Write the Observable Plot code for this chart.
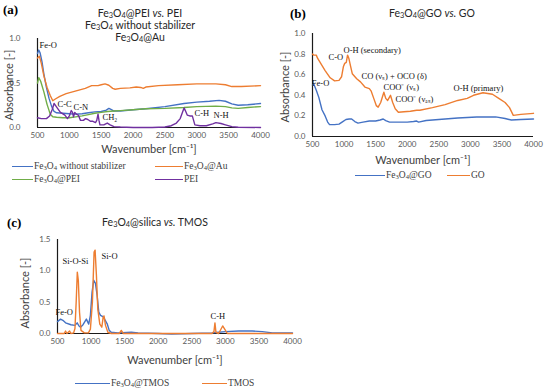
<!DOCTYPE html>
<html><head><meta charset="utf-8">
<script src="https://cdn.jsdelivr.net/npm/d3@7"></script>
<script src="https://cdn.jsdelivr.net/npm/@observablehq/plot@0.6"></script>
<style>
body{margin:0;background:#fff;}
#wrap{position:relative;width:550px;height:390px;overflow:hidden;font-family:Lato,"Liberation Sans",sans-serif;background:#fff;}
.pl{position:absolute;}
.ttl{position:absolute;font-size:10.5px;line-height:12px;height:12px;color:#262626;text-align:center;white-space:nowrap;transform:translateX(-50%);}
.tag{position:absolute;font-family:"Liberation Serif",serif;font-weight:bold;font-size:13px;line-height:13px;color:#000;}
.leg{position:absolute;font-family:"Liberation Serif",serif;font-size:9.5px;line-height:12px;color:#404040;white-space:nowrap;display:flex;align-items:center;}
.sw{display:inline-block;height:0;border-top:1.6px solid;margin-right:1px;}
.yl{position:absolute;font-size:11px;line-height:12px;color:#404040;white-space:nowrap;transform:translate(-50%,-50%) rotate(-90deg);}
sub{font-size:70%;vertical-align:-0.15em;line-height:0;}
</style></head>
<body><div id="wrap"></div>
<script>
// ---------- data: panel (a) ----------
const xTicks = [500, 1000, 1500, 2000, 2500, 3000, 3500, 4000];
const aTicksY = [0, 0.5, 1.0];
const bTicksY = [0, 0.2, 0.4, 0.6, 0.8, 1.0];
const cTicksY = [0, 0.5, 1.0, 1.5];

const noStabWn  = [500,520,540,570,600,640,680,720,760,800,900,1000,1100,1200,1300,1400,1500,1580,1620,1660,1700,1800,2000,2200,2500,2800,3000,3200,3350,3450,3550,3650,3800,4000];
const noStabAbs = [0.83,0.87,0.84,0.74,0.60,0.45,0.33,0.24,0.18,0.165,0.16,0.155,0.15,0.155,0.165,0.175,0.18,0.195,0.215,0.2,0.185,0.185,0.2,0.21,0.235,0.27,0.285,0.295,0.305,0.295,0.265,0.25,0.255,0.27];

const auWn  = [500,530,560,600,650,700,740,780,850,950,1050,1150,1250,1350,1450,1500,1560,1620,1680,1720,1800,1950,2050,2120,2160,2200,2400,2700,3000,3300,3450,3550,3700,4000];
const auAbs = [0.78,0.80,0.72,0.58,0.45,0.36,0.30,0.32,0.35,0.38,0.40,0.42,0.44,0.47,0.47,0.48,0.49,0.475,0.44,0.43,0.44,0.445,0.455,0.45,0.44,0.455,0.47,0.48,0.49,0.49,0.48,0.46,0.46,0.47];

const fePeiWn  = [500,520,550,600,650,700,740,800,900,1000,1100,1200,1300,1400,1500,1600,1700,1800,2000,2200,2500,2800,3000,3300,3450,3550,3650,3800,4000];
const fePeiAbs = [0.50,0.56,0.52,0.40,0.26,0.15,0.12,0.115,0.11,0.11,0.12,0.13,0.145,0.16,0.17,0.18,0.185,0.19,0.2,0.21,0.215,0.225,0.235,0.24,0.235,0.22,0.215,0.225,0.235];

const peiWn  = [500,560,640,690,730,760,790,820,860,930,970,1000,1030,1050,1065,1085,1110,1140,1175,1220,1255,1290,1330,1370,1410,1430,1450,1465,1480,1540,1595,1640,1700,1800,2000,2300,2500,2600,2680,2740,2780,2800,2820,2850,2890,2930,2950,2970,3050,3150,3250,3300,3380,3450,3550,3650,4000];
const peiAbs = [0.11,0.10,0.10,0.13,0.20,0.27,0.24,0.21,0.17,0.14,0.10,0.13,0.19,0.17,0.12,0.17,0.15,0.14,0.08,0.08,0.10,0.09,0.07,0.07,0.055,0.08,0.15,0.08,0.03,0.03,0.05,0.03,0.01,0.005,0,0,0.005,0.02,0.05,0.10,0.18,0.22,0.19,0.14,0.13,0.13,0.08,0.03,0.02,0.02,0.04,0.055,0.045,0.03,0.01,0.003,0];

const aNotesText = ["Fe-O","C-C","C-N","CH₂","C-H","N-H"];
const aNotesWn   = [531, 814, 1065, 1520, 2965, 3263];
const aNotesAbs  = [0.92, 0.26, 0.225, 0.11, 0.16, 0.135];

// ---------- data: panel (b) ----------
const feGoWn  = [500,520,560,600,650,700,740,770,850,920,980,1030,1080,1120,1170,1220,1300,1400,1500,1570,1620,1660,1720,1850,2000,2100,2150,2180,2300,2500,2800,3100,3400,3550,3650,3800,4000];
const feGoAbs = [0.50,0.51,0.45,0.38,0.26,0.20,0.14,0.115,0.115,0.12,0.145,0.165,0.17,0.17,0.145,0.13,0.14,0.15,0.15,0.16,0.17,0.155,0.14,0.14,0.14,0.145,0.15,0.14,0.155,0.165,0.18,0.19,0.19,0.175,0.16,0.165,0.17];

const goWn  = [500,520,560,580,630,700,780,850,920,960,990,1010,1035,1055,1075,1100,1130,1200,1260,1330,1400,1430,1470,1510,1540,1580,1630,1660,1690,1735,1770,1810,1860,1950,2050,2150,2200,2400,2600,2800,2950,3050,3200,3350,3450,3550,3620,3680,3800,4000];
const goAbs = [0.80,0.79,0.79,0.76,0.71,0.64,0.57,0.54,0.545,0.58,0.68,0.71,0.72,0.79,0.76,0.69,0.61,0.56,0.53,0.48,0.465,0.44,0.37,0.30,0.285,0.33,0.43,0.37,0.35,0.40,0.33,0.27,0.235,0.24,0.245,0.255,0.255,0.28,0.31,0.35,0.37,0.40,0.425,0.41,0.37,0.33,0.28,0.205,0.215,0.225];

const bNotesText = ["Fe-O","C-O","O-H (secondary)","CO (νₛ) + OCO (δ)","COO⁻ (νₛ)","COO⁻ (νₐₛ)","O-H (primary)"];
const bNotesWn   = [490, 753, 991, 1276, 1624, 1815, 2733];
const bNotesAbs  = [0.52, 0.77, 0.835, 0.58, 0.475, 0.36, 0.466];

// ---------- data: panel (c) ----------
const feTmosWn  = [500,545,580,620,700,760,793,820,843,880,930,965,990,1015,1040,1065,1090,1115,1140,1190,1215,1240,1270,1300,1400,1600,1700,2000,2200,2500,2800,2900,3000,3200,3400,3550,3700,4000];
const feTmosAbs = [0.19,0.23,0.21,0.17,0.14,0.13,0.17,0.12,0.10,0.14,0.23,0.15,0.29,0.66,0.85,0.80,0.61,0.34,0.29,0.26,0.2,0.155,0.05,0.02,0.01,0.02,0.01,0,-0.01,0,0.01,0.02,0.03,0.04,0.04,0.03,0.01,0.01];

const tmosWn  = [500,600,620,640,680,700,740,760,778,795,810,828,850,900,960,990,1020,1045,1060,1080,1100,1130,1160,1180,1192,1215,1250,1300,1420,1450,1480,2800,2830,2845,2860,2900,2930,2960,2990,3030,4000];
const tmosAbs = [0,0,0.04,0,0.04,0,0.01,0.08,0.5,0.98,0.85,0.34,0.05,0.01,0.01,0.07,0.5,1.3,1.33,0.92,0.39,0.15,0.10,0.26,0.28,0.13,0.02,0,0,0.05,0,0,0.03,0.17,0.02,0,0.06,0.12,0.07,0,0];

const cNotesText = ["Si-O-Si","Si-O","Fe-O","C-H"];
const cNotesWn   = [574, 1155, 470, 2779];
const cNotesAbs  = [1.15, 1.23, 0.335, 0.27];

// ---------- build ----------
const BLUE = "#4472C4", ORANGE = "#ED7D31", GREEN = "#70AD47", PURPLE = "#7030A0";
const zip = (wn, ab) => wn.map((w, i) => ({wn: w, abs: ab[i]}));
const notes = (t, w, a) => t.map((s, i) => ({text: s, wn: w[i], abs: a[i]}));

function panel(o) {
  return Plot.plot({
    width: o.width, height: o.height,
    marginLeft: o.ml, marginRight: o.mr, marginTop: o.mt, marginBottom: o.mb,
    x: {domain: [500, 4000]},
    y: {domain: o.yDomain},
    style: {fontFamily: "Lato, 'Liberation Sans', sans-serif", fontSize: "8px", color: "#595959", background: "transparent", overflow: "visible"},
    marks: [
      Plot.axisX({ticks: xTicks, tickSize: 0, tickPadding: 5, label: null, tickFormat: d => String(d)}),
      Plot.axisY({ticks: o.yTicks, tickSize: 0, tickPadding: o.ytp, label: null, tickFormat: d3.format(".1f")}),
      Plot.ruleY([0], {stroke: "#1a1a1a", strokeWidth: 1.2}),
      Plot.ruleX([500], {stroke: "#1a1a1a", strokeWidth: 1.2}),
      ...o.series.map(s => Plot.line(s.data, {x: "wn", y: "abs", stroke: s.color, strokeWidth: 1.4, curve: "linear"})),
      Plot.text(o.notes, {x: "wn", y: "abs", text: "text", textAnchor: "start", fontFamily: "'Liberation Serif', serif", fontSize: 8.5, fill: "#111"}),
      Plot.text(["Wavenumber [cm⁻¹]"], {frameAnchor: "bottom", dy: o.xldy, fontSize: 11, fill: "#404040"})
    ]
  });
}

const wrap = document.getElementById("wrap");
function place(el, left, top) { el.classList.add("pl"); el.style.left = left + "px"; el.style.top = top + "px"; wrap.appendChild(el); }
function html(cls, left, top, inner) { const d = document.createElement("div"); d.className = cls; d.style.left = left + "px"; d.style.top = top + "px"; d.innerHTML = inner; wrap.appendChild(d); }
function leg(left, yc, color, swW, label) { html("leg", left, yc - 6, `<span class="sw" style="width:${swW}px;border-color:${color}"></span><span>${label}</span>`); }

const FE = "Fe<sub>3</sub>O<sub>4</sub>";

place(panel({width: 275, height: 160, ml: 37, mr: 15, mt: 38, mb: 33, yDomain: [0, 1], yTicks: aTicksY, ytp: 17, xldy: 25,
  series: [{data: zip(noStabWn, noStabAbs), color: BLUE}, {data: zip(auWn, auAbs), color: ORANGE}, {data: zip(fePeiWn, fePeiAbs), color: GREEN}, {data: zip(peiWn, peiAbs), color: PURPLE}],
  notes: notes(aNotesText, aNotesWn, aNotesAbs)}), 0, 0);

place(panel({width: 275, height: 160, ml: 37, mr: 17, mt: 33, mb: 24, yDomain: [0, 1], yTicks: bTicksY, ytp: 7, xldy: 27,
  series: [{data: zip(feGoWn, feGoAbs), color: BLUE}, {data: zip(goWn, goAbs), color: ORANGE}],
  notes: notes(bNotesText, bNotesWn, bNotesAbs)}), 275, 0);

place(panel({width: 300, height: 165, ml: 57, mr: 8, mt: 49, mb: 22, yDomain: [0, 1.5], yTicks: cTicksY, ytp: 7, xldy: 30,
  series: [{data: zip(feTmosWn, feTmosAbs), color: BLUE}, {data: zip(tmosWn, tmosAbs), color: ORANGE}],
  notes: notes(cNotesText, cNotesWn, cNotesAbs)}), 0, 190);

// y-axis labels
html("yl", 9, 85, "Absorbance [-]");
html("yl", 285, 87, "Absorbance [-]");
html("yl", 25, 293, "Absorbance [-]");

// titles and tags
html("tag", 3, 3, "(a)");
html("tag", 290, 7, "(b)");
html("tag", 7, 216, "(c)");
html("ttl", 140, 7, `${FE}@PEI <i>vs.</i> PEI`);
html("ttl", 140, 19, `${FE} without stabilizer`);
html("ttl", 140, 31, `${FE}@Au`);
html("ttl", 432, 7, `${FE}@GO <i>vs.</i> GO`);
html("ttl", 155, 216, `${FE}@silica <i>vs.</i> TMOS`);

// legends
leg(12, 166, BLUE, 21, `${FE} without stabilizer`);
leg(155, 166, ORANGE, 28, `${FE}@Au`);
leg(12, 179, GREEN, 21, `${FE}@PEI`);
leg(155, 179, PURPLE, 28, `PEI`);
leg(355, 175, BLUE, 30, `${FE}@GO`);
leg(447, 175, ORANGE, 23, `GO`);
leg(75, 383, BLUE, 35, `${FE}@TMOS`);
leg(202, 383, ORANGE, 25, `TMOS`);
</script></body></html>
